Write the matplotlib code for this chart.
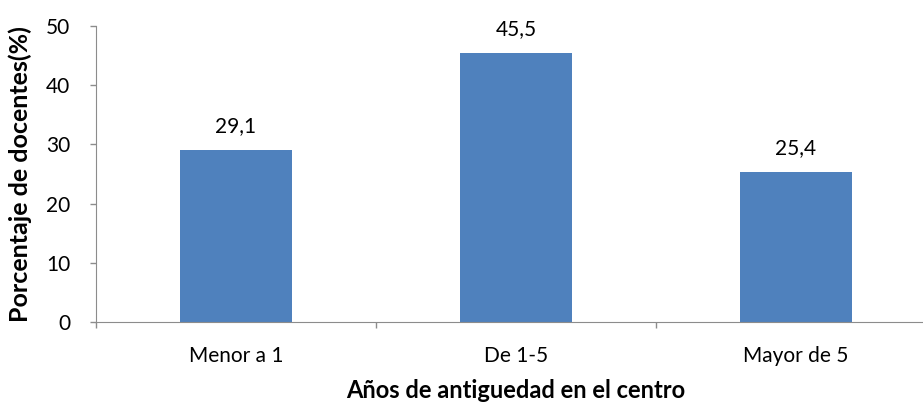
import matplotlib.pyplot as plt

# datos del grafico
categorias = ["Menor a 1", "De 1-5", "Mayor de 5"]
porcentajes = [29.1, 45.5, 25.4]
etiquetas = ["29,1", "45,5", "25,4"]

plt.rcParams["font.family"] = ["Lato", "DejaVu Sans"]
gris = "#8c8c8c"

fig = plt.figure(figsize=(9.23, 4.08), dpi=100)
ax = fig.add_axes([0.104, 0.211, 0.91, 0.725])

x = range(len(categorias))
barras = ax.bar(x, porcentajes, width=0.40, color="#4f81bd")

# valores encima de cada barra
for b, txt in zip(barras, etiquetas):
    ax.annotate(txt, (b.get_x() + b.get_width() / 2, b.get_height()),
                xytext=(0, 10), textcoords="offset points",
                ha="center", va="bottom", fontsize=15)

ax.set_xlim(-0.5, 2.5)
ax.set_ylim(0, 50)
ax.set_yticks(range(0, 51, 10))
ax.set_xticks(x)
ax.set_xticklabels(categorias, fontsize=15)
ax.set_xticks([-0.5, 0.5, 1.5, 2.5], minor=True)
ax.tick_params(axis="x", which="major", length=0, pad=17)
ax.tick_params(axis="x", which="minor", length=4.5, color=gris, width=1)
ax.tick_params(axis="y", length=4.5, color=gris, width=1, labelsize=15, pad=14)

for lado in ["top", "right"]:
    ax.spines[lado].set_visible(False)
for lado in ["left", "bottom"]:
    ax.spines[lado].set_color(gris)

ax.set_xlabel("Años de antiguedad en el centro", fontsize=17, fontweight="bold", labelpad=10)
ax.set_ylabel("Porcentaje de docentes(%)", fontsize=18, fontweight="bold", labelpad=10)

fig.savefig("out.png", dpi=100)
